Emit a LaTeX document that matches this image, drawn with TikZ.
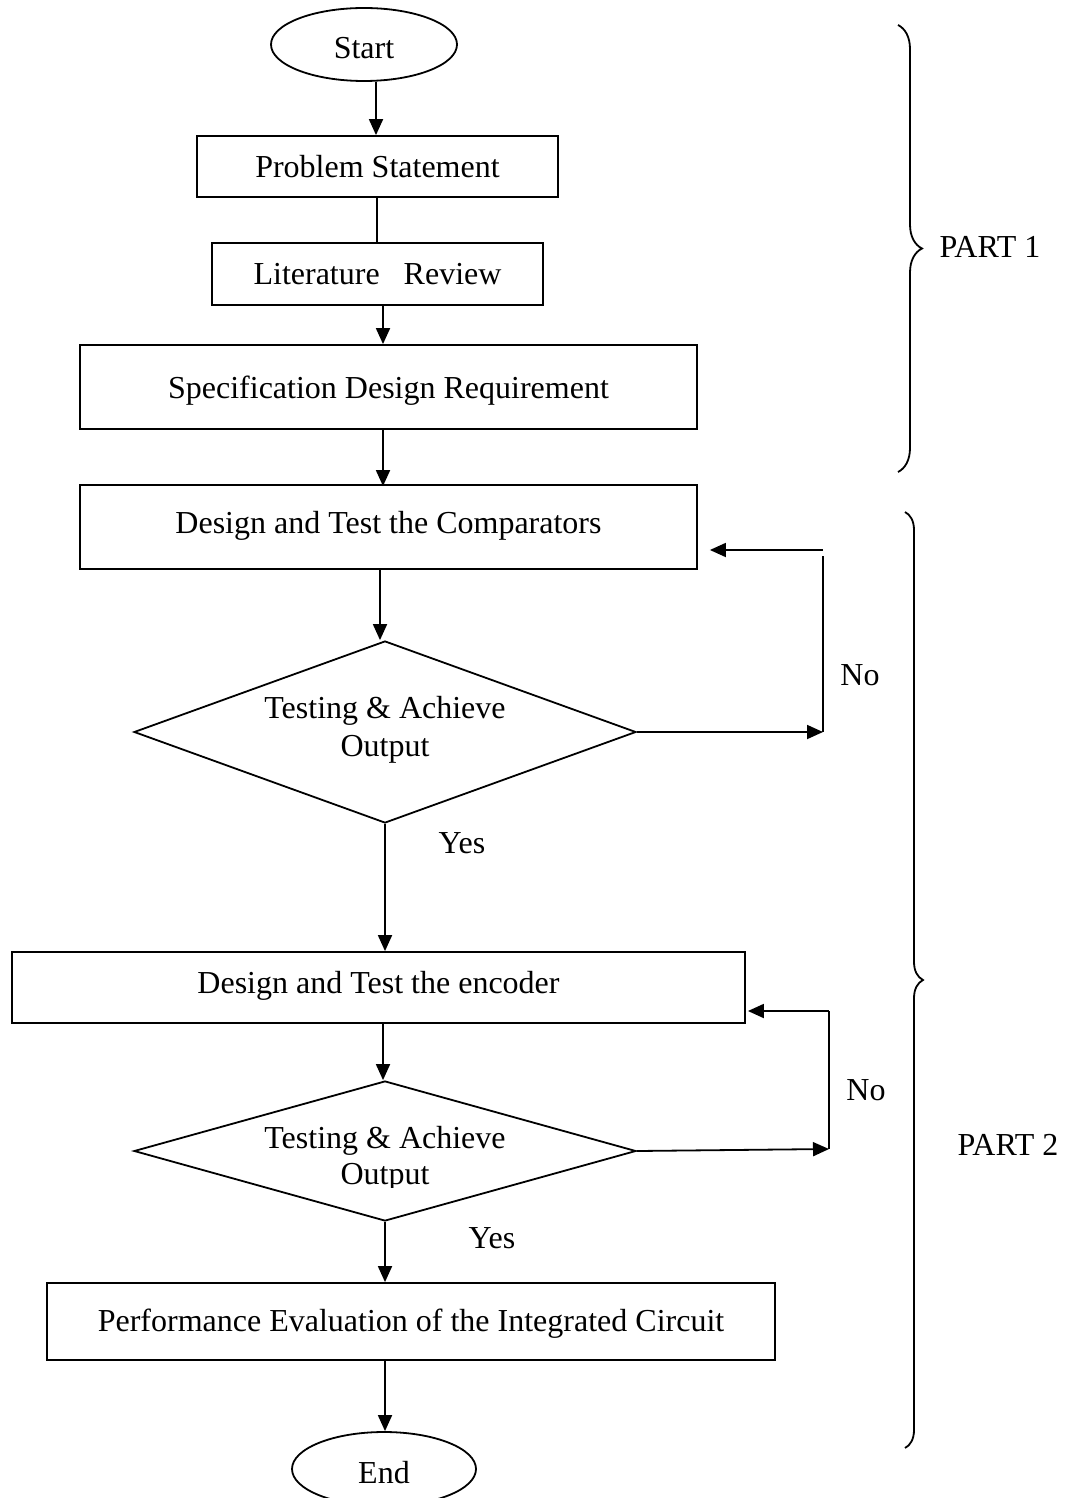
\documentclass[tikz,border=0pt]{standalone}
\usepackage{fontspec}
\setmainfont{Liberation Serif}
\usetikzlibrary{shapes.geometric,arrows.meta,decorations.pathreplacing}
\begin{document}
\begin{tikzpicture}[x=0.5pt,y=-0.5pt,
  every node/.style={font=\fontsize{16}{19}\selectfont},
  procbox/.style={draw, rectangle, line width=0.9pt, inner sep=0pt},
  term/.style={draw, ellipse, line width=0.9pt, inner sep=0pt},
  decis/.style={draw, diamond, line width=0.9pt, inner sep=0pt},
  arr/.style={line width=0.9pt, -{Triangle[length=8pt,width=7pt]}},
  ln/.style={line width=0.9pt},
  brc/.style={decorate, decoration={brace, amplitude=#1}, line width=0.9pt}]
\useasboundingbox (0,0) rectangle (1073,1498);

% terminals
\node[term, minimum width=93pt, minimum height=36.5pt] (start) at (364,44.5) {};
\node (starttxt) at (364,48.5) {Start};
\node[term, minimum width=92pt, minimum height=37pt] (end) at (384,1469) {};
\node (endtxt) at (384,1473) {End};

% process boxes
\node[procbox, minimum width=180.5pt, minimum height=30.5pt] (ps) at (377.5,166.5) {Problem Statement};
\node[procbox, minimum width=165.5pt, minimum height=31pt] (lr) at (377.5,274) {Literature\hspace{0.75em}Review};
\node[procbox, minimum width=308.5pt, minimum height=42pt] (sdr) at (388.5,387) {};
\node (sdrtxt) at (388.5,391) {Specification Design Requirement};
\node[procbox, minimum width=308.5pt, minimum height=42pt] (dtc) at (388.5,527) {};
\node (dtctxt) at (388.5,526) {Design and Test the Comparators};
\node[procbox, minimum width=366.5pt, minimum height=35.5pt] (dte) at (378.5,987.5) {};
\node (dtetxt) at (378.5,986) {Design and Test the encoder};
\node[procbox, minimum width=364pt, minimum height=38.5pt] (pe) at (411,1321.5) {};
\node (petxt) at (411,1323.5) {Performance Evaluation of the Integrated Circuit};

% decisions
\node[decis, minimum width=251pt, minimum height=91pt] (d1) at (385,732) {};
\node[align=center] (d1txt) at (385,730) {Testing \& Achieve\\Output};
\node[decis, minimum width=251pt, minimum height=70pt] (d2) at (385,1151) {};
\begin{scope}
  \clip (0,0) rectangle (1073,1187);
  \node[align=center, font=\fontsize{16}{18}\selectfont] (d2txt) at (385,1159) {Testing \& Achieve\\Output};
\end{scope}

% labels
\node (no1) at (860,675) {No};
\node (yes1) at (462,843) {Yes};
\node (no2) at (866,1090) {No};
\node (yes2) at (492,1238) {Yes};
\node (p1) at (990,247) {PART 1};
\node (p2) at (1008,1145) {PART 2};

% loop corners
\coordinate (c1b) at (823,732);
\coordinate (c1t) at (823,550);
\coordinate (c2b) at (829,1149);
\coordinate (c2t) at (829,1011);

% main flow
\draw[arr] (376,0 |- start.south) -- (376,0 |- ps.north);
\draw[ln]  (377,0 |- ps.south) -- (377,0 |- lr.north);
\draw[arr] (383,0 |- lr.south) -- (383,0 |- sdr.north);
\draw[arr] (383,0 |- sdr.south) -- ([yshift=-1pt]383,0 |- dtc.north);
\draw[arr] (380,0 |- dtc.south) -- (380,0 |- d1.north);
\draw[arr] (d1.south) -- (d1.south |- dte.north);
\draw[arr] (383,0 |- dte.south) -- (383,0 |- d2.north);
\draw[arr] (d2.south) -- (d2.south |- pe.north);
\draw[arr] (385,0 |- pe.south) -- (385,0 |- end.north);

% feedback loops
\draw[arr] (d1.east) -- (c1b);
\draw[ln]  ([yshift=-3pt]c1t) -- (c1b);
\draw[arr] (c1t) -- ([xshift=6pt]dtc.east |- c1t);
\draw[arr] (d2.east) -- (c2b);
\draw[ln]  (c2b) -- (c2t);
\draw[arr] (c2t) -- ([xshift=1pt]dte.east |- c2t);

% braces
\draw[brc=12pt] (898,25) -- (898,472);
\draw[brc=9pt] (905,512) -- (905,1448);
\end{tikzpicture}
\end{document}
